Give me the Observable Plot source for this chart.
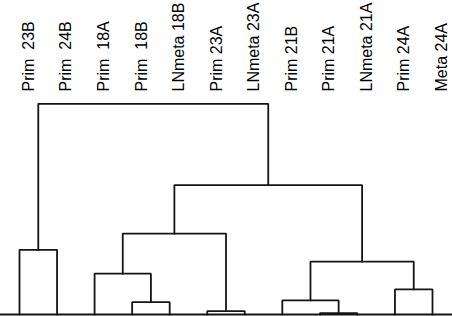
<!DOCTYPE html>
<html>
<head>
<meta charset="utf-8">
<script src="https://cdn.jsdelivr.net/npm/d3@7"></script>
<script src="https://cdn.jsdelivr.net/npm/@observablehq/plot@0.6"></script>
<style>
  html, body { margin: 0; padding: 0; background: #fff; }
  svg text { white-space: pre; }
</style>
</head>
<body>
<div id="chart"></div>
<script>
// Leaves in dendrogram order
const leaves = ["Prim  23B", "Prim  24B", "Prim  18A", "Prim  18B", "LNmeta 18B",
                "Prim 23A", "LNmeta 23A", "Prim 21B", "Prim 21A", "LNmeta 21A",
                "Prim 24A", "Meta 24A"];
// Linkage: nodes 0..11 are leaves, node 12+k is the k-th merge
const mergeLeft   = [8, 5, 3, 7, 10, 2, 15, 0, 17, 20, 19];
const mergeRight  = [9, 6, 4, 12, 11, 14, 16, 1, 13, 18, 21];
const mergeHeight = [0.013, 0.033, 0.123, 0.14, 0.25, 0.407, 0.527, 0.645, 0.807, 1.29, 2.1];

// compute node positions (index position, height)
const nodeX = leaves.map((d, i) => i);
const nodeH = leaves.map(() => 0);
const segs = [];
mergeLeft.forEach((l, k) => {
  const r = mergeRight[k], h = mergeHeight[k];
  segs.push({k, x: nodeX[l], h: nodeH[l]});
  segs.push({k, x: nodeX[l], h});
  segs.push({k, x: nodeX[r], h});
  segs.push({k, x: nodeX[r], h: nodeH[r]});
  nodeX.push((nodeX[l] + nodeX[r]) / 2);
  nodeH.push(h);
});

const chart = Plot.plot({
  width: 452,
  height: 316,
  marginLeft: 0,
  marginRight: 0,
  marginTop: 91,
  marginBottom: 0,
  style: {fontFamily: "'Liberation Sans', Arial, sans-serif", background: "#fff", color: "#000"},
  x: {type: "linear", domain: [0, leaves.length - 1], range: [19, 432], axis: null},
  y: {type: "linear", domain: [0, 2.1], range: [314, 103.3], axis: null},
  marks: [
    Plot.line(segs, {x: "x", y: "h", z: "k", stroke: "#151515", strokeWidth: 1.8, strokeLinejoin: "miter", strokeLinecap: "square"}),
    Plot.ruleY([0], {stroke: "#151515", strokeWidth: 2}),
    Plot.text(leaves, {x: (d, i) => i, text: d => d, frameAnchor: "top", rotate: -90, textAnchor: "start", fontSize: 16, fill: "#000", dx: 3})
  ]
});
document.getElementById("chart").appendChild(chart);
</script>
</body>
</html>
